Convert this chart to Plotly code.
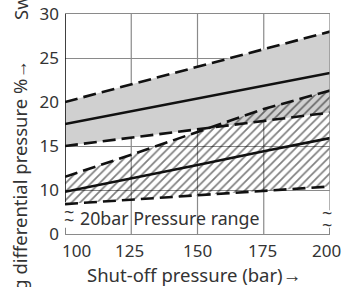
import plotly.graph_objects as go

# ---- data ----
x_pts = [100, 125, 150, 175, 200]
gray_upper = [20.0, 22.0, 24.0, 26.0, 28.0]
gray_mid = [17.5, 18.95, 20.4, 21.85, 23.3]
gray_lower = [15.0, 15.95, 16.9, 17.85, 18.8]
hatch_upper = [11.5, 14.0, 16.6, 19.2, 21.3]
hatch_mid = [9.8, 11.3, 12.85, 14.4, 15.9]
hatch_lower = [8.4, 8.9, 9.4, 9.9, 10.4]

x_ticks = [100, 125, 150, 175, 200]
x_tick_text = ["100", "125", "150", "175", "200"]
x_label_shift = [11, -2, 0, -1, -4]
y_ticks = [5, 10, 15, 20, 25, 30]
y_tick_text = ["0", "10", "15", "20", "25", "30"]

FONT = "Noto Sans"
TXT = "#333333"
GRID = "#8a8a8a"

fig = go.Figure()

# gray band fill
fig.add_trace(go.Scatter(x=x_pts, y=gray_lower, mode="lines", line=dict(width=0),
                         showlegend=False, hoverinfo="skip"))
fig.add_trace(go.Scatter(x=x_pts, y=gray_upper, mode="lines", line=dict(width=0),
                         fill="tonexty", fillcolor="#d0d0d0", showlegend=False, hoverinfo="skip"))
# hatched band fill
fig.add_trace(go.Scatter(x=x_pts, y=hatch_lower, mode="lines", line=dict(width=0),
                         showlegend=False, hoverinfo="skip"))
fig.add_trace(go.Scatter(x=x_pts, y=hatch_upper, mode="lines", line=dict(width=0),
                         fill="tonexty", fillcolor="rgba(0,0,0,0)",
                         fillpattern=dict(shape="/", fgcolor="#000000", bgcolor="rgba(0,0,0,0)",
                                          size=6, solidity=0.28, fillmode="overlay"),
                         showlegend=False, hoverinfo="skip"))

dash = "13px,6px"
for ys, d in [(gray_upper, dash), (gray_mid, "solid"), (gray_lower, dash),
              (hatch_upper, dash), (hatch_mid, "solid"), (hatch_lower, dash)]:
    fig.add_trace(go.Scatter(x=x_pts, y=ys, mode="lines",
                             line=dict(color="#111111", width=2.6, dash=d),
                             showlegend=False, hoverinfo="skip"))

shapes = []
# vertical grid lines
for xv in x_ticks[1:-1]:
    shapes.append(dict(type="line", xref="x", yref="y", x0=xv, x1=xv, y0=5, y1=30,
                       line=dict(color=GRID, width=1.2), layer="below"))
# right border (broken)
shapes.append(dict(type="line", xref="x", yref="y", x0=200, x1=200, y0=7.7, y1=30,
                   line=dict(color=GRID, width=1.3)))
# left axis (broken)
shapes.append(dict(type="line", xref="x", yref="y", x0=100, x1=100, y0=8.6, y1=30,
                   line=dict(color="#111111", width=1.6)))
# short end ticks on the bottom axis
for xv in (100, 200):
    shapes.append(dict(type="line", xref="x", yref="y", x0=xv, x1=xv, y0=5, y1=5.7,
                       line=dict(color="#444444", width=1.3)))

tick_font = dict(family=FONT, size=17, color=TXT)
text_font = dict(family=FONT, size=18.5, color=TXT)
annotations = []
for xv, t, s in zip(x_ticks, x_tick_text, x_label_shift):
    annotations.append(dict(x=xv, y=0, xref="x", yref="paper", text=t, showarrow=False,
                            xanchor="center", yanchor="middle", yshift=-16, xshift=s,
                            font=tick_font))
annotations.append(dict(x=0.485, y=0, xref="paper", yref="paper",
                        text="Shut-off pressure (bar)→", showarrow=False,
                        xanchor="center", yanchor="middle", yshift=-40, font=text_font))
annotations.append(dict(x=-0.17, y=0.80, xref="paper", yref="paper",
                        text="Switching differential pressure %→", showarrow=False,
                        textangle=-90, xanchor="center", yanchor="top", font=text_font))
annotations.append(dict(x=-0.17, y=0.9636, xref="paper", yref="paper",
                        text="Switching", showarrow=False,
                        textangle=-90, xanchor="center", yanchor="bottom", font=text_font))
annotations.append(dict(x=105.0, y=6.8, xref="x", yref="y", text="20bar Pressure range",
                        showarrow=False, xanchor="left", yanchor="middle",
                        font=dict(family=FONT, size=17.8, color=TXT)))
# axis break marks
for xv, yv in [(101.5, 7.5), (101.5, 6.6), (198.9, 7.4), (198.9, 6.0)]:
    annotations.append(dict(x=xv, y=yv, xref="x", yref="y", text="~", showarrow=False,
                            xanchor="center", yanchor="middle",
                            font=dict(family=FONT, size=18, color=TXT)))

fig.update_layout(
    width=344, height=287,
    margin=dict(l=65, r=14, t=14, b=53, autoexpand=False),
    paper_bgcolor="white", plot_bgcolor="white",
    shapes=shapes, annotations=annotations,
    xaxis=dict(range=[100, 200], showgrid=False, zeroline=False, showline=True, mirror=True,
               linecolor=GRID, linewidth=1.3, showticklabels=False, ticks="",
               automargin=False, fixedrange=True),
    yaxis=dict(range=[5, 30], tickvals=y_ticks, ticktext=y_tick_text, showgrid=True,
               gridcolor=GRID, gridwidth=1.2, zeroline=False, showline=False, ticks="",
               ticklabelstandoff=5, automargin=False,
               tickfont=tick_font, fixedrange=True),
)

fig.write_html("out.html", config={"displayModeBar": False},
               post_script="document.body.style.margin='0';document.body.style.overflow='hidden';")
